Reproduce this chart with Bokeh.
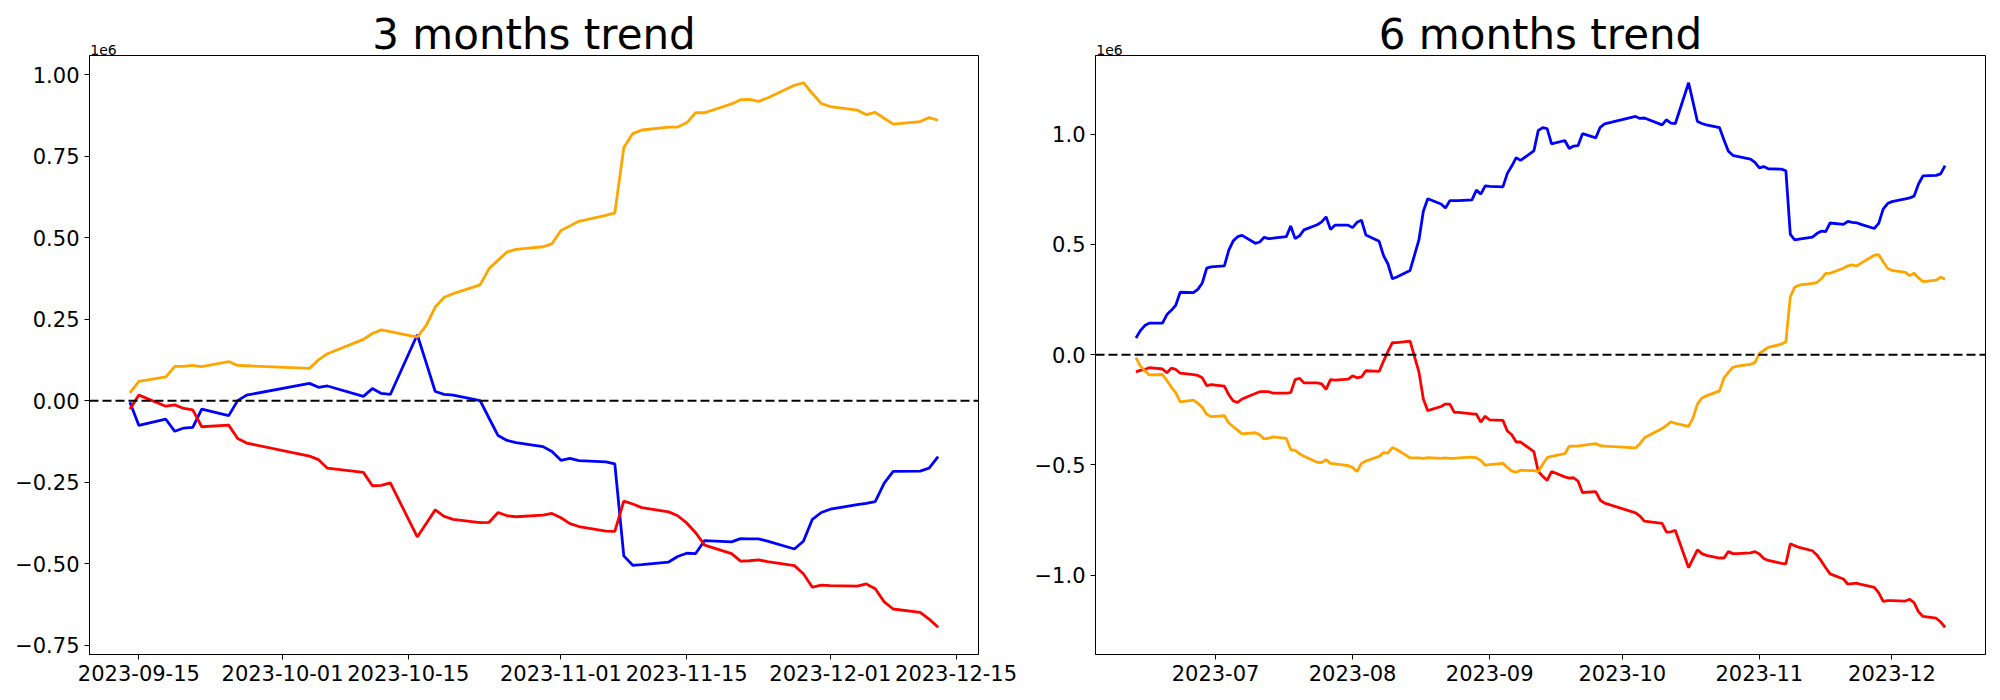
import numpy as np
import pandas as pd
from bokeh.plotting import figure
from bokeh.layouts import row
from bokeh.models import (Range1d, FixedTicker, DatetimeTickFormatter,
                          CustomJSTickFormatter, Span, LinearAxis)
from bokeh.embed import file_html
from bokeh.resources import INLINE

# ---------------- data ----------------
krx_holidays = ["2023-08-15", "2023-09-28", "2023-09-29",
                "2023-10-02", "2023-10-03", "2023-10-09"]


def trading_days(start, end):
    d = pd.bdate_range(start, end)
    return d[~d.isin(pd.to_datetime(krx_holidays))]


dates_3m = trading_days("2023-09-14", "2023-12-13")
dates_6m = trading_days("2023-06-13", "2023-12-13")

# values in units of 1e6
blue_3m = [-0.005, -0.076,
           -0.057, -0.094, -0.084, -0.082, -0.026,
           -0.046, 0.000, 0.017,
           0.053, 0.041, 0.045,
           0.013, 0.037, 0.022, 0.019,
           0.202, 0.116, 0.028, 0.019, 0.017,
           0.000, -0.054, -0.107, -0.122, -0.129,
           -0.141, -0.156, -0.183, -0.177, -0.184,
           -0.188, -0.194, -0.476, -0.505, -0.503,
           -0.495, -0.478, -0.468, -0.469, -0.429,
           -0.433, -0.423, -0.424, -0.424, -0.431,
           -0.455, -0.431, -0.364, -0.343, -0.333,
           -0.319, -0.315, -0.310, -0.253, -0.217,
           -0.216, -0.207, -0.172]
red_3m = [-0.026, 0.017,
          -0.017, -0.013, -0.024, -0.028, -0.080,
          -0.075, -0.116, -0.130,
          -0.170, -0.181, -0.207,
          -0.220, -0.261, -0.260, -0.252,
          -0.418, -0.377, -0.335, -0.355, -0.364,
          -0.374, -0.373, -0.343, -0.353, -0.356,
          -0.351, -0.346, -0.359, -0.377, -0.386,
          -0.400, -0.401, -0.308, -0.317, -0.328,
          -0.341, -0.353, -0.375, -0.405, -0.443,
          -0.469, -0.492, -0.491, -0.488, -0.494,
          -0.506, -0.531, -0.572, -0.566, -0.567,
          -0.569, -0.562, -0.577, -0.617, -0.639,
          -0.649, -0.670, -0.695]
orange_3m = [0.024, 0.059,
             0.073, 0.105, 0.105, 0.108, 0.104,
             0.120, 0.108, 0.107,
             0.099, 0.125, 0.144,
             0.188, 0.206, 0.217, 0.212,
             0.195, 0.231, 0.287, 0.317, 0.328,
             0.355, 0.405, 0.431, 0.456, 0.464,
             0.472, 0.481, 0.522, 0.536, 0.550,
             0.568, 0.576, 0.776, 0.819, 0.830,
             0.839, 0.839, 0.852, 0.883, 0.883,
             0.910, 0.923, 0.924, 0.918, 0.928,
             0.967, 0.975, 0.942, 0.911, 0.902,
             0.891, 0.877, 0.884, 0.866, 0.848,
             0.856, 0.868, 0.860]

blue_6m = [0.076, 0.109, 0.132, 0.143,
           0.143, 0.182, 0.201, 0.224, 0.283,
           0.281, 0.296, 0.325, 0.392, 0.398,
           0.403, 0.474, 0.516, 0.535, 0.541,
           0.505, 0.511, 0.532, 0.526, 0.528,
           0.535, 0.583, 0.526, 0.539, 0.566,
           0.589, 0.602, 0.625, 0.568, 0.587,
           0.587, 0.576, 0.600, 0.610, 0.543,
           0.514, 0.449, 0.411, 0.344, 0.352,
           0.382, 0.520, 0.650, 0.707,
           0.683, 0.665, 0.698, 0.698, 0.698,
           0.702, 0.746, 0.728, 0.765, 0.763,
           0.761, 0.822, 0.855, 0.893, 0.881,
           0.924, 1.017, 1.029, 1.025, 0.956,
           0.971, 0.935, 0.946, 0.948, 1.002,
           0.983, 1.031, 1.046,
           1.080, 1.071, 1.073,
           1.042, 1.065, 1.050, 1.048,
           1.233, 1.145, 1.057, 1.048, 1.042,
           1.029, 0.973, 0.922, 0.904, 0.899,
           0.887, 0.872, 0.847, 0.853, 0.843,
           0.841, 0.834, 0.545, 0.520, 0.524,
           0.533, 0.549, 0.560, 0.558, 0.597,
           0.591, 0.604, 0.600, 0.598, 0.591,
           0.572, 0.595, 0.660, 0.685, 0.694,
           0.706, 0.711, 0.719, 0.774, 0.811,
           0.813, 0.820, 0.857]
red_6m = [-0.078, -0.071, -0.067, -0.059,
          -0.065, -0.082, -0.061, -0.067, -0.084,
          -0.090, -0.094, -0.105, -0.140, -0.136,
          -0.143, -0.182, -0.210, -0.216, -0.201,
          -0.176, -0.168, -0.168, -0.168, -0.174,
          -0.174, -0.172, -0.113, -0.107, -0.128,
          -0.128, -0.132, -0.157, -0.113, -0.115,
          -0.111, -0.096, -0.105, -0.101, -0.073,
          -0.076, -0.029, 0.015, 0.055, 0.055,
          0.061, -0.078, -0.201, -0.254,
          -0.235, -0.224, -0.224, -0.262, -0.262,
          -0.268, -0.270, -0.306, -0.279, -0.296,
          -0.298, -0.346, -0.363, -0.396, -0.396,
          -0.440, -0.530, -0.551, -0.570, -0.530,
          -0.554, -0.560, -0.558, -0.574, -0.625,
          -0.621, -0.660, -0.673,
          -0.717, -0.732, -0.755,
          -0.765, -0.805, -0.803, -0.797,
          -0.966, -0.925, -0.885, -0.902, -0.910,
          -0.922, -0.922, -0.893, -0.902, -0.902,
          -0.899, -0.893, -0.904, -0.924, -0.933,
          -0.946, -0.948, -0.857, -0.866, -0.874,
          -0.889, -0.908, -0.935, -0.966, -0.994,
          -1.017, -1.040, -1.038, -1.036, -1.042,
          -1.055, -1.080, -1.119, -1.115, -1.115,
          -1.117, -1.109, -1.124, -1.166, -1.187,
          -1.195, -1.212, -1.236]
orange_6m = [-0.013, -0.052, -0.073, -0.092,
             -0.090, -0.117, -0.147, -0.172, -0.214,
             -0.206, -0.220, -0.239, -0.270, -0.281,
             -0.277, -0.310, -0.327, -0.342, -0.359,
             -0.354, -0.363, -0.382, -0.379, -0.373,
             -0.380, -0.430, -0.434, -0.449, -0.461,
             -0.488, -0.489, -0.476, -0.493, -0.495,
             -0.503, -0.512, -0.530, -0.493, -0.482,
             -0.461, -0.444, -0.446, -0.421, -0.430,
             -0.468, -0.468, -0.470, -0.467,
             -0.470, -0.468, -0.470, -0.470, -0.468,
             -0.465, -0.468, -0.480, -0.501, -0.499,
             -0.493, -0.511, -0.528, -0.533, -0.524,
             -0.526, -0.530, -0.497, -0.467, -0.461,
             -0.449, -0.415, -0.415, -0.415, -0.411,
             -0.403, -0.413, -0.415,
             -0.423, -0.403, -0.377,
             -0.335, -0.321, -0.304, -0.312,
             -0.325, -0.287, -0.224, -0.197, -0.187,
             -0.164, -0.105, -0.080, -0.057, -0.052,
             -0.044, -0.036, 0.006, 0.019, 0.033,
             0.048, 0.059, 0.262, 0.306, 0.315,
             0.323, 0.327, 0.344, 0.369, 0.369,
             0.392, 0.403, 0.407, 0.402, 0.415,
             0.451, 0.453, 0.421, 0.392, 0.382,
             0.373, 0.359, 0.369, 0.348, 0.331,
             0.338, 0.352, 0.342]

xticks_3m = ["2023-09-15", "2023-10-01", "2023-10-15", "2023-11-01",
             "2023-11-15", "2023-12-01", "2023-12-15"]
xticks_6m = ["2023-07-01", "2023-08-01", "2023-09-01", "2023-10-01",
             "2023-11-01", "2023-12-01"]
yticks_3m = [-0.75, -0.5, -0.25, 0.0, 0.25, 0.5, 0.75, 1.0]
yticks_6m = [-1.0, -0.5, 0.0, 0.5, 1.0]
offset_text = "1e6"

series_colors = ["blue", "red", "orange"]
FONT = "DejaVu Sans"


def to_ms(d):
    return pd.Timestamp(d).timestamp() * 1000.0


def make_panel(title, dates, series, xticks, xfmt, yticks, ydec,
               width, border_left, border_right):
    for s in series:
        assert len(s) == len(dates), (title, len(s), len(dates))
    x_ms = np.array([to_ms(d) for d in dates])
    xspan = x_ms[-1] - x_ms[0]
    allv = np.concatenate([np.asarray(s, dtype=float) for s in series])
    vmin, vmax = allv.min(), allv.max()
    yspan = vmax - vmin
    x0, x1 = x_ms[0] - 0.05 * xspan, x_ms[-1] + 0.05 * xspan
    y0, y1 = vmin - 0.05 * yspan, vmax + 0.05 * yspan

    p = figure(width=width, height=690, x_axis_type="datetime",
               x_range=Range1d(x0, x1), y_range=Range1d(y0, y1),
               output_backend="svg", toolbar_location=None,
               min_border_left=border_left, min_border_right=border_right,
               min_border_top=55, min_border_bottom=36)

    p.xgrid.visible = False
    p.ygrid.visible = False
    p.outline_line_color = "black"
    p.outline_line_width = 1
    p.outline_line_alpha = 1.0
    p.background_fill_color = "white"
    p.border_fill_color = "white"

    p.xaxis.ticker = FixedTicker(ticks=[to_ms(t) for t in xticks])
    p.xaxis.formatter = DatetimeTickFormatter(
        microseconds=xfmt, milliseconds=xfmt, seconds=xfmt, minsec=xfmt,
        minutes=xfmt, hourmin=xfmt, hours=xfmt, days=xfmt, months=xfmt,
        years=xfmt)
    p.yaxis.ticker = FixedTicker(ticks=yticks)
    p.yaxis.formatter = CustomJSTickFormatter(code=(
        "const s = Math.abs(tick).toFixed(%d);"
        "return (tick < -1e-9 ? '\\u2212' : '') + s;" % ydec))

    for ax in (p.xaxis, p.yaxis):
        ax.major_label_text_font = FONT
        ax.major_label_text_font_size = "21px"
        ax.major_label_text_color = "black"
        ax.axis_line_color = "black"
        ax.axis_line_width = 1
        ax.major_tick_line_color = "black"
        ax.major_tick_line_width = 1
        ax.major_tick_out = 5
        ax.major_tick_in = 0
        ax.minor_tick_out = 0
        ax.minor_tick_in = 0
        ax.major_label_standoff = 5

    # top "axis": carries the chart title (axis label) and the offset text
    # "1e6" (single tick label at the frame's top-left corner)
    frame_w = width - border_left - border_right
    x_off = x0 + (14.0 / frame_w) * (x1 - x0)
    top = LinearAxis(axis_label=title,
                     ticker=FixedTicker(ticks=[x_off]),
                     formatter=CustomJSTickFormatter(
                         code="return '%s';" % offset_text))
    top.axis_line_color = None
    top.major_tick_line_color = None
    top.minor_tick_line_color = None
    top.major_tick_out = 0
    top.major_tick_in = 0
    top.minor_tick_out = 0
    top.minor_tick_in = 0
    top.major_label_standoff = 1
    top.major_label_text_font = FONT
    top.major_label_text_font_size = "14px"
    top.major_label_text_color = "black"
    top.axis_label_text_font = FONT
    top.axis_label_text_font_size = "42px"
    top.axis_label_text_font_style = "normal"
    top.axis_label_text_color = "black"
    top.axis_label_standoff = -17
    p.add_layout(top, "above")

    for s, c in zip(series, series_colors):
        p.line(x_ms, np.asarray(s, dtype=float), line_color=c, line_width=2.8)

    p.add_layout(Span(location=0, dimension="width", line_color="black",
                      line_width=2, line_dash="9 4"))
    return p


p1 = make_panel("3 months trend", dates_3m, [blue_3m, red_3m, orange_3m],
                xticks_3m, "%Y-%m-%d", yticks_3m, 2, 1025, 89, 47)
p2 = make_panel("6 months trend", dates_6m, [blue_6m, red_6m, orange_6m],
                xticks_6m, "%Y-%m", yticks_6m, 1, 972, 70, 12)

layout = row(p1, p2)
open("out.html", "w").write(file_html(layout, INLINE))
